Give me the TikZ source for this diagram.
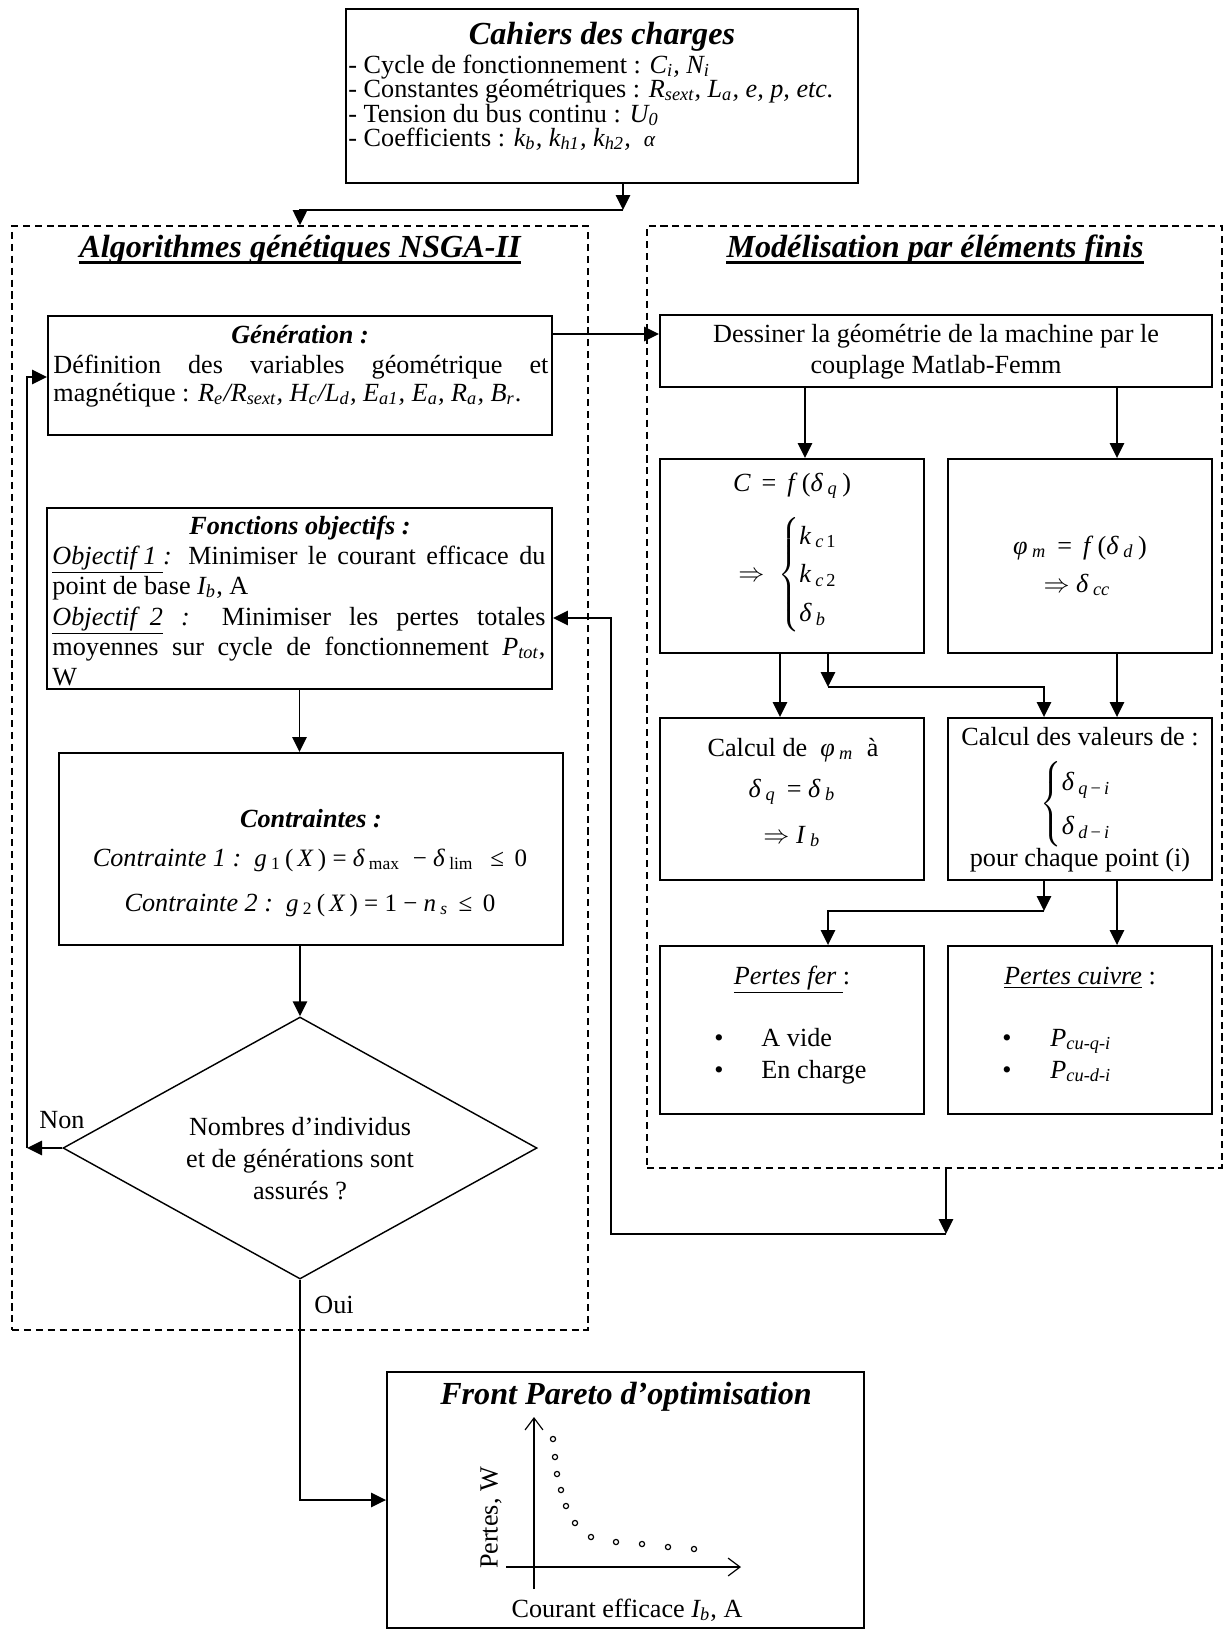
\documentclass[tikz,border=0pt]{standalone}
\usepackage{fontspec}
\setmainfont{Liberation Serif}
\usetikzlibrary{arrows.meta,fit,shapes.geometric}
\newlength\pxu \setlength\pxu{0.42pt}
\newcommand\ttl{\fontsize{13.5}{15}\selectfont\bfseries\itshape}
\newcommand\bx{\fontsize{11}{13}\selectfont}
\newcommand\bbi{\fontsize{11}{13}\selectfont\bfseries\itshape}
\newcommand\eqf{\fontsize{10.5}{12}\selectfont}
\newcommand\jl[2]{\makebox[#1\pxu][s]{#2}}
\newcommand\sbs[1]{\textsubscript{#1}}
\begin{document}
\begin{tikzpicture}[x=0.42pt,y=-0.42pt,
  box/.style={draw,line width=0.8pt,inner sep=0pt},
  dbox/.style={draw,line width=0.7pt,dash pattern=on 3pt off 2pt,inner sep=0pt},
  arr/.style={line width=0.8pt,-{Triangle[length=6.3pt,width=6pt]}},
  axis/.style={line width=0.5pt,-{Straight Barb[length=5pt,width=7.5pt]}},
  ul/.style={line width=1.1pt},
  txt/.style={inner sep=0pt,font=\bx},
  ]
\useasboundingbox (0,0) rectangle (1224,1630);

% ---------- Cahiers des charges
\node[box, fit={(346,9) (858,183)}] (cdc) {};
\node[txt, font=\ttl, anchor=base] (cdct) at (602,44) {Cahiers des charges};
\node[txt, anchor=base west] (cdc1) at (348,73) {- Cycle de fonctionnement : \textit{C\sbs{i}, N\sbs{i}}};
\node[txt, anchor=base west] (cdc2) at (348,97) {- Constantes géométriques : \textit{R\sbs{sext}, L\sbs{a}, e, p, etc.}};
\node[txt, anchor=base west] (cdc3) at (348,122) {- Tension du bus continu : \textit{U\sbs{0}}};
\node[txt, anchor=base west] (cdc4) at (348,146) {- Coefficients : \textit{k\sbs{b}, k\sbs{h1}, k\sbs{h2},\ \ {\small α}}};

% ---------- dashed groups
\node[dbox, fit={(12,226) (588,1330)}] (ag) {};
\node[dbox, fit={(647,226) (1222,1168)}] (mef) {};
\node[txt, font=\ttl, anchor=base] (agt) at (300,257) {Algorithmes génétiques NSGA-II};
\draw[ul] ([yshift=-2.4pt]agt.base west) -- ([yshift=-2.4pt]agt.base east);
\node[txt, font=\ttl, anchor=base] (meft) at (935,257) {Modélisation par éléments finis};
\draw[ul] ([yshift=-2.4pt]meft.base west) -- ([yshift=-2.4pt]meft.base east);

% ---------- left column
\node[box, fit={(48,316) (552,435)}] (gen) {};
\node[txt, font=\bbi, anchor=base] (g0) at (300,343) {Génération :};
\node[txt, anchor=base west] (g1) at (53,373) {\jl{495}{Définition des variables géométrique et}};
\node[txt, anchor=base west] (g2) at (53,401) {magnétique : \textit{R\sbs{e}/R\sbs{sext}, H\sbs{c}/L\sbs{d}, E\sbs{a1}, E\sbs{a}, R\sbs{a}, B\sbs{r}}.};

\node[box, fit={(47,508) (552,689)}] (fo) {};
\node[txt, font=\bbi, anchor=base] (f0) at (300,534) {Fonctions objectifs :};
\node[txt, anchor=base west] (f1) at (52,564) {\jl{493}{\underline{\textit{Objectif 1 }}\textit{:} Minimiser le courant efficace du}};
\node[txt, anchor=base west] (f2) at (52,594) {point de base \textit{I\sbs{b}}, A};
\node[txt, anchor=base west] (f3) at (52,625) {\jl{493}{\underline{\textit{Objectif\ \ 2}}\textit{ :} Minimiser les pertes totales}};
\node[txt, anchor=base west] (f4) at (52,655) {\jl{493}{moyennes sur cycle de fonctionnement \textit{P\sbs{tot}},}};
\node[txt, anchor=base west] (f5) at (52,685) {W};

\node[box, fit={(59,753) (563,945)}] (con) {};
\node[txt, font=\bbi, anchor=base] (c0) at (311,827) {Contraintes :};
\node[txt, anchor=base] (c1) at (310,866) {\textit{Contrainte 1 :}\ \ {\eqf\textit{g}\,\sbs{1}\,(\,\textit{X}\,) = \textit{δ}\,\sbs{max}\ \ − \textit{δ}\,\sbs{lim}\ \ \,≤\, 0}};
\node[txt, anchor=base] (c2) at (310,911) {\textit{Contrainte 2 :}\ \ {\eqf\textit{g}\,\sbs{2}\,(\,\textit{X}\,) = 1 − \textit{n}\,\sbs{\textit{s}}\ \,≤\, 0}};

\node[draw, diamond, line width=0.6pt, minimum width=199.08pt, minimum height=110.04pt, inner sep=0pt] (dia) at (300,1148) {};
\node[txt, anchor=base] (d1) at (300,1135) {Nombres d’individus};
\node[txt, anchor=base] (d2) at (300,1167) {et de générations sont};
\node[txt, anchor=base] (d3) at (300,1199) {assurés ?};
\node[txt, anchor=base] (non) at (62,1128) {Non};
\node[txt, anchor=base] (oui) at (334,1313) {Oui};

% ---------- right column
\node[box, fit={(660,315) (1212,387)}] (dess) {};
\node[txt, anchor=base] (ds1) at (936,342) {Dessiner la géométrie de la machine par le};
\node[txt, anchor=base] (ds2) at (936,373) {couplage Matlab-Femm};

\node[box, fit={(660,459) (924,653)}] (cbox) {};
\node[txt, anchor=base] (cb1) at (792,491) {\textit{C}\ \,=\ \,\textit{f}\,(\textit{δ}\,\sbs{\textit{q}}\,)};
\node[txt] (cb2) at (789,575) {$\Rightarrow\ \left\{\renewcommand\arraystretch{1.25}\begin{array}{@{}l@{}}\textit{k}\,\textsubscript{\textit{c}\,1}\\ \textit{k}\,\textsubscript{\textit{c}\,2}\\ \textit{δ}\,\textsubscript{\textit{b}}\end{array}\right.$};

\node[box, fit={(948,459) (1212,653)}] (pbox) {};
\node[txt, anchor=base] (pb1) at (1080,554) {\textit{φ}\,\sbs{\textit{m}}\ \,=\ \,\textit{f}\,(\textit{δ}\,\sbs{\textit{d}}\,)};
\node[txt, anchor=base] (pb2) at (1077,592) {$\Rightarrow$\ \textit{δ}\,\sbs{\textit{cc}}};

\node[box, fit={(660,718) (924,880)}] (calphi) {};
\node[txt, anchor=base] (cp1) at (793,756) {Calcul de \ \textit{φ}\,\sbs{\textit{m}}\ \ à};
\node[txt, anchor=base] (cp2) at (792,797) {\textit{δ}\,\sbs{\textit{q}}\ \,=\ \textit{δ}\,\sbs{\textit{b}}};
\node[txt, anchor=base] (cp3) at (792,843) {$\Rightarrow$\ \textit{I}\,\sbs{\textit{b}}};

\node[box, fit={(948,718) (1212,880)}] (calval) {};
\node[txt, anchor=base] (cv1) at (1080,745) {Calcul des valeurs de :};
\node[txt] (cv2) at (1077,804) {$\left\{\renewcommand\arraystretch{1.42}\begin{array}{@{}l@{}}\textit{δ}\,\textsubscript{\textit{q}\,−\,\textit{i}}\\ \textit{δ}\,\textsubscript{\textit{d}\,−\,\textit{i}}\end{array}\right.$};
\node[txt, anchor=base] (cv3) at (1080,866) {pour chaque point (i)};

\node[box, fit={(660,946) (924,1114)}] (pfer) {};
\node[txt, anchor=base] (pf1) at (792,984) {\underline{\textit{Pertes fer }}:};
\node[txt, anchor=base] (pf2) at (719,1046) {\textbullet};
\node[txt, anchor=base west] (pf3) at (761,1046) {A vide};
\node[txt, anchor=base] (pf4) at (719,1078) {\textbullet};
\node[txt, anchor=base west] (pf5) at (761,1078) {En charge};

\node[box, fit={(948,946) (1212,1114)}] (pcu) {};
\node[txt, anchor=base] (pc1) at (1080,984) {\underline{\textit{Pertes cuivre}} :};
\node[txt, anchor=base] (pc2) at (1007,1046) {\textbullet};
\node[txt, anchor=base west] (pc3) at (1050,1046) {\textit{P\sbs{cu-q-i}}};
\node[txt, anchor=base] (pc4) at (1007,1078) {\textbullet};
\node[txt, anchor=base west] (pc5) at (1050,1078) {\textit{P\sbs{cu-d-i}}};

% ---------- Front Pareto
\node[box, fit={(387,1372) (864,1628)}] (front) {};
\node[txt, font=\ttl, anchor=base] (frt) at (626,1404) {Front Pareto d’optimisation};
\draw[axis] (534,1589) -- (534,1417);
\draw[axis] (506,1567) -- (741,1567);
\foreach \px/\py in {553/1439,555/1457,557/1474,561/1490,566/1506,575/1523,591/1537,616/1542,642/1544,668/1547,694/1549}
  \draw[line width=0.5pt] (\px,\py) circle (2.6);
\node[txt, rotate=90] (yl) at (491,1518) {Pertes, W};
\node[txt, anchor=base] (xl) at (627,1617) {Courant efficace \textit{I\sbs{b}}, A};

% ---------- connectors
\coordinate (k1) at (623,210);
\draw[arr] (cdc.south -| k1) -- (k1);
\draw[arr] (k1) -| (ag.north);
\draw[arr] (gen.east |- 0,334) -- (dess.west |- 0,334);
\coordinate (nonpt) at (27,1148);
\draw[arr] (dia.west) -- (nonpt);
\draw[arr] (nonpt) |- (gen.west |- 0,377);
\draw[arr] (fo.south) -- (fo.south |- con.north);
\draw[arr] (con.south -| dia.north) -- (dia.north);
\draw[arr] (dia.south) |- (front.west);

\draw[arr] (dess.south -| 805,0) -- (cbox.north -| 805,0);
\draw[arr] (dess.south -| 1117,0) -- (pbox.north -| 1117,0);
\draw[arr] (cbox.south -| 780,0) -- (calphi.north -| 780,0);
\coordinate (k2) at (828,687);
\draw[arr] (cbox.south -| k2) -- (k2);
\draw[arr] (k2) -| (calval.north -| 1044,0);
\draw[arr] (pbox.south -| 1117,0) -- (calval.north -| 1117,0);
\coordinate (k3) at (1044,911);
\draw[arr] (calval.south -| k3) -- (k3);
\draw[arr] (k3) -| (pfer.north -| k2);
\draw[arr] (calval.south -| 1117,0) -- (pcu.north -| 1117,0);
\coordinate (k4) at (946,1234);
\coordinate (k5) at (611,618);
\draw[arr] (mef.south -| k4) -- (k4);
\draw[arr] (k4) -| (k5) -- (fo.east |- k5);
\end{tikzpicture}
\end{document}
